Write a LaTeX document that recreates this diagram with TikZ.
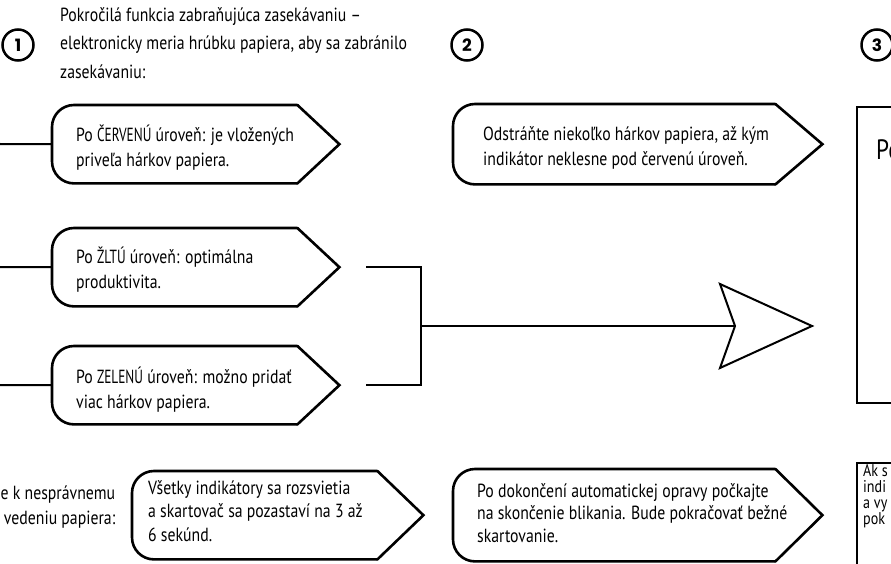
\documentclass[tikz,border=0pt]{standalone}
\usepackage{fontspec}
\setmainfont[FakeStretch=0.83]{PT Sans}
\newfontfamily\capsfont[FakeStretch=0.70]{PT Sans}
\newfontfamily\numfont{Poppins}
\usetikzlibrary{calc}
\newcommand\tagoutline[2]{%
  \draw[outl, rounded corners=22pt] (#1.south east) -- (#1.south west) -- (#1.north west) -- (#1.north east);
  \draw[outl] (#1.north east) -- ($(#1.east)+(#2,0)$) -- (#1.south east);}
\begin{document}
\begin{tikzpicture}[x=1pt,y=-1pt,
  outl/.style={line width=2.6pt, line join=miter, line cap=round},
  tagbox/.style={draw=none, shape=rectangle, inner sep=0pt, anchor=north west},
  txt/.style={font=\fontsize{19}{25}\selectfont, align=left, inner sep=0pt, anchor=west},
  num/.style={circle, draw, line width=2.5pt, minimum size=31pt, inner sep=0pt, font=\numfont\bfseries\fontsize{17}{17}\selectfont},
  conn/.style={line width=2pt},
  plainbox/.style={draw, line width=2pt, inner sep=0pt, anchor=north west}]
\useasboundingbox (0,0) rectangle (891,564);
\clip (0,0) rectangle (891,564);

% step numbers
\node[num] (n1) at (18,45) {1};
\node[num] (n2) at (467,45) {2};
\node[num] (n3) at (877,45) {3};

% intro text
\node[txt, font=\fontsize{19}{28.5}\selectfont] (intro) at (60,43)
  {Pokročilá funkcia zabraňujúca zasekávaniu –\\elektronicky meria hrúbku papiera, aby sa zabránilo\\zasekávaniu:};

% left column tags
\node[tagbox, minimum width=245pt, minimum height=78pt] (r1) at (52,105) {};
\node[tagbox, minimum width=245pt, minimum height=78pt] (r2) at (52,228) {};
\node[tagbox, minimum width=245pt, minimum height=78pt] (r3) at (52,346) {};
\tagoutline{r1}{42}
\tagoutline{r2}{42}
\tagoutline{r3}{42}
\node[txt] (t1) at (76,147.5) {Po {\capsfont ČERVENÚ} úroveň: je vložených\\priveľa hárkov papiera.};
\node[txt] (t2) at (76,270) {Po {\capsfont ŽLTÚ} úroveň: optimálna\\produktivita.};
\node[txt] (t3) at (76,390) {Po {\capsfont ZELENÚ} úroveň: možno pridať\\viac hárkov papiera.};

\coordinate (l1) at (0,144);
\coordinate (l2) at (0,267);
\coordinate (l3) at (0,385);
\draw[conn] (l1) -- (r1.west);
\draw[conn] (l2) -- (r2.west);
\draw[conn] (l3) -- (r3.west);

% bracket and big arrow
\coordinate (b1) at (366,267);
\coordinate (b2) at (366,385);
\coordinate (bm) at (421,326);
\coordinate (notch) at (735,326);
\coordinate (ahu) at (720,284);
\coordinate (ahtip) at (812,326);
\coordinate (ahl) at (720,368);
\draw[conn] (b1) -| (bm) |- (b2);
\draw[conn] (bm) -- (notch);
\draw[conn, line join=miter] (notch) -- (ahu) -- (ahtip) -- (ahl) -- cycle;

% step 2 tag
\node[tagbox, minimum width=322pt, minimum height=80pt] (r4) at (453,104) {};
\tagoutline{r4}{47}
\node[txt] (t4) at (483,147.5) {Odstráňte niekoľko hárkov papiera, až kým\\indikátor neklesne pod červenú úroveň.};

% step 3 box
\node[plainbox, minimum width=120pt, minimum height=296pt] (box3) at (856,106) {};
\node[txt, font=\fontsize{28}{30}\selectfont] (t5) at (876,150) {Po};

% bottom row
\node[txt, align=right, anchor=west] (t6) at (0.5,507) {e k nesprávnemu\\vedeniu papiera:};
\node[tagbox, minimum width=245pt, minimum height=88pt] (r7) at (132,471) {};
\tagoutline{r7}{46}
\node[txt, font=\fontsize{19}{23.5}\selectfont] (t7) at (148,511) {Všetky indikátory sa rozsvietia\\a skartovač sa pozastaví na 3 až\\6 sekúnd.};

\node[tagbox, minimum width=322pt, minimum height=92pt] (r8) at (453,469) {};
\tagoutline{r8}{47}
\node[txt, font=\fontsize{19}{22.5}\selectfont] (t8) at (477,513) {Po dokončení automatickej opravy počkajte\\na skončenie blikania. Bude pokračovať bežné\\skartovanie.};

\node[plainbox, minimum width=120pt, minimum height=140pt] (box9) at (856,462) {};
\node[txt, font=\fontsize{17}{16}\selectfont] (t9) at (863,496) {Ak s\\indi\\a vy\\pok};
\end{tikzpicture}
\end{document}
